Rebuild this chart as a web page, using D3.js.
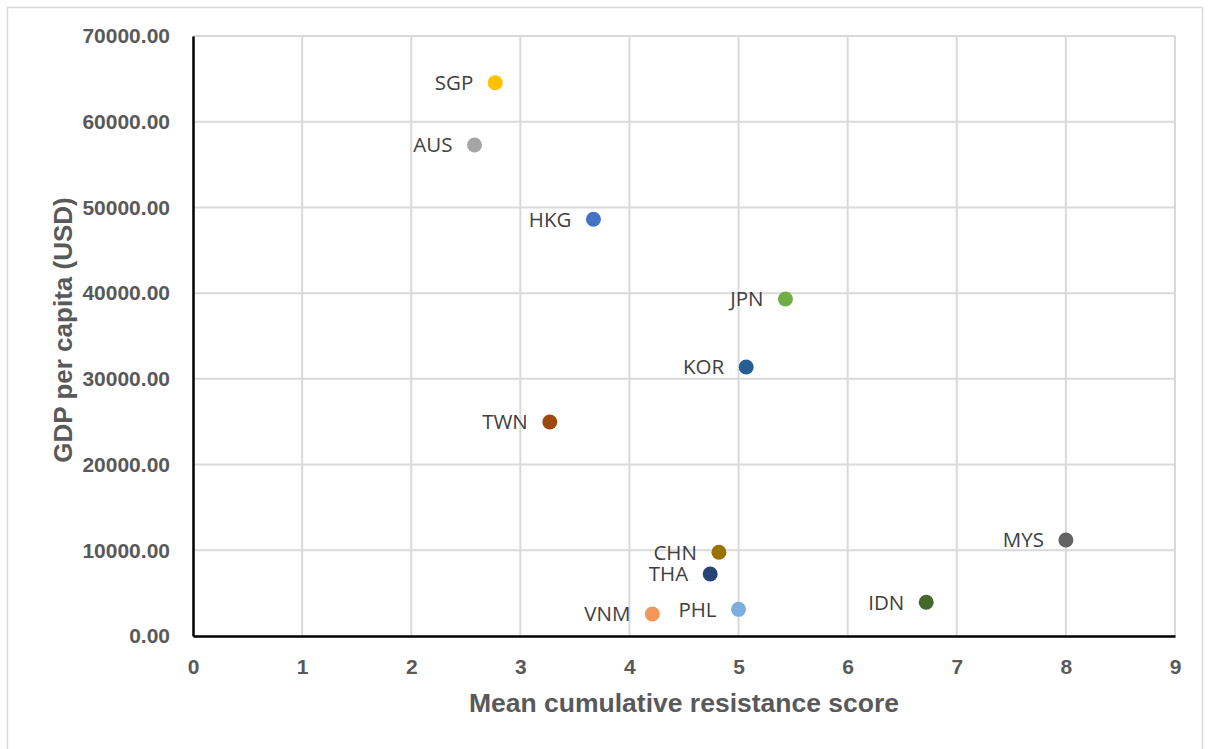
<!DOCTYPE html>
<html><head><meta charset="utf-8">
<script src="https://cdn.jsdelivr.net/npm/d3@7"></script>
<style>body{margin:0;background:#fff;}svg{display:block;}</style>
</head><body>
<script>
const countries = ["SGP","AUS","HKG","JPN","KOR","TWN","MYS","CHN","THA","IDN","PHL","VNM"];
const resistanceScores = [2.77,2.58,3.67,5.43,5.07,3.27,8.0,4.82,4.74,6.72,5.0,4.21];
const gdpPerCapita = [64550,57290,48620,39320,31380,24970,11200,9770,7230,3930,3110,2570];
const pointColors = ["#FFC000","#A5A5A5","#4472C4","#70AD47","#255E91","#9E480E","#636363","#997300","#264478","#43682B","#7CAFDD","#F1975A"];
const xTicks = [0,1,2,3,4,5,6,7,8,9];
const yTicks = [0,10000,20000,30000,40000,50000,60000,70000];
const xTitle = "Mean cumulative resistance score";
const yTitle = "GDP per capita (USD)";

const W = 1209, H = 749;
const m = {left:193, right:1175, top:36, bottom:636};
const svg = d3.select("body").append("svg").attr("width",W).attr("height",H);
svg.append("rect").attr("x",7.5).attr("y",7.5).attr("width",1195).attr("height",760)
  .attr("fill","#fff").attr("stroke","#d9d9d9").attr("stroke-width",1.5);

const x = d3.scaleLinear().domain([0,9]).range([m.left,m.right]);
const y = d3.scaleLinear().domain([0,70000]).range([m.bottom,m.top]);

// gridlines
svg.append("g").selectAll("line.v").data(xTicks.slice(1)).join("line")
  .attr("x1",d=>x(d)).attr("x2",d=>x(d)).attr("y1",m.top).attr("y2",m.bottom)
  .attr("stroke","#d9d9d9").attr("stroke-width",2);
svg.append("g").selectAll("line.h").data(yTicks.slice(1)).join("line")
  .attr("x1",m.left).attr("x2",m.right).attr("y1",d=>y(d)).attr("y2",d=>y(d))
  .attr("stroke","#d9d9d9").attr("stroke-width",2);

// axes
const xAxis = svg.append("g").attr("transform",`translate(0,${m.bottom})`)
  .call(d3.axisBottom(x).tickValues(xTicks).tickSize(0).tickPadding(23).tickFormat(d3.format("d")));
const yAxis = svg.append("g").attr("transform",`translate(${m.left},0)`)
  .call(d3.axisLeft(y).tickValues(yTicks).tickSize(0).tickPadding(23).tickFormat(d3.format(".2f")));
[xAxis,yAxis].forEach(a=>{
  a.select(".domain").attr("stroke","#000").attr("stroke-width",2.5);
  a.selectAll("text").attr("fill","#595959").attr("font-family","Liberation Sans, Arial, sans-serif")
   .attr("font-weight","bold").attr("font-size","21px");
});

// titles
svg.append("text").attr("x",(m.left+m.right)/2).attr("y",712).attr("text-anchor","middle")
  .attr("font-family","Liberation Sans, Arial, sans-serif").attr("font-weight","bold")
  .attr("font-size","26.5px").attr("fill","#595959").text(xTitle);
svg.append("text").attr("transform",`translate(72,330) rotate(-90)`)
  .attr("text-anchor","middle")
  .attr("font-family","Liberation Sans, Arial, sans-serif").attr("font-weight","bold")
  .attr("font-size","26px").attr("fill","#595959").text(yTitle);

// points
const idx = d3.range(countries.length);
svg.append("g").selectAll("circle").data(idx).join("circle")
  .attr("cx",i=>x(resistanceScores[i])).attr("cy",i=>y(gdpPerCapita[i])).attr("r",7.5)
  .attr("fill",i=>pointColors[i]);
svg.append("g").selectAll("text").data(idx).join("text")
  .attr("x",i=>x(resistanceScores[i])-22).attr("y",i=>y(gdpPerCapita[i]))
  .attr("dy","0.36em").attr("text-anchor","end")
  .attr("font-family","Open Sans, sans-serif").attr("font-size","20.5px").attr("fill","#404040")
  .text(i=>countries[i]);
</script>
</body></html>
